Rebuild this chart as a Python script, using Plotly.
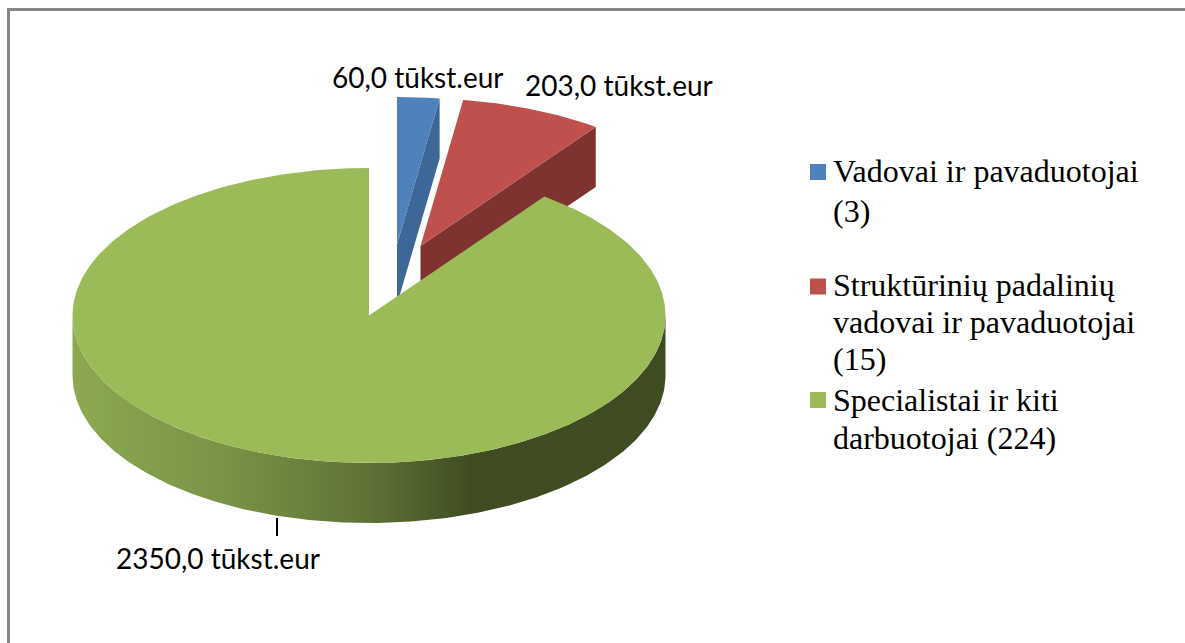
import numpy as np
import plotly.graph_objects as go

categories = ["Vadovai ir pavaduotojai (3)",
              "Struktūrinių padalinių vadovai ir pavaduotojai (15)",
              "Specialistai ir kiti darbuotojai (224)"]
legend_lines = [["Vadovai ir pavaduotojai", "(3)"],
                ["Struktūrinių padalinių", "vadovai ir pavaduotojai", "(15)"],
                ["Specialistai ir kiti", "darbuotojai (224)"]]
values = [60.0, 203.0, 2350.0]
value_labels = ["60,0 tūkst.eur", "203,0 tūkst.eur", "2350,0 tūkst.eur"]

TOP = ["#4F81BD", "#C0504D", "#9BBB59"]
SIDE = ["#3D6797", "#7F3331", None]
W, H = 1185, 643
RX, RY, DEPTH = 296.5, 147.5, 60
CENTERS = [(397, 244.5), (420.5, 246), (369, 315.5)]


def pt(c, t, dz=0):
    t = np.asarray(t, dtype=float)
    return c[0] + RX * np.sin(t), c[1] - RY * np.cos(t) + dz


fractions = np.array(values) / sum(values)
edges = np.concatenate([[0], np.cumsum(fractions)]) * 2 * np.pi

fig = go.Figure()

# exploded slices: cut face first, then top
for i in range(2):
    c, end = CENTERS[i], edges[i + 1]
    ex, ey = pt(c, end)
    fig.add_trace(go.Scatter(
        x=[c[0], ex, ex, c[0], c[0]],
        y=[c[1], ey, ey + DEPTH, c[1] + DEPTH, c[1]],
        mode="lines", fill="toself", fillcolor=SIDE[i],
        line=dict(width=0), showlegend=False, hoverinfo="skip"))
    t = np.linspace(edges[i], edges[i + 1], 40)
    ax, ay = pt(c, t)
    fig.add_trace(go.Scatter(
        x=np.r_[c[0], ax, c[0]], y=np.r_[c[1], ay, c[1]],
        mode="lines", fill="toself", fillcolor=TOP[i],
        line=dict(width=0), name=categories[i], showlegend=False,
        text=value_labels[i], hoverinfo="text"))

# large slice: rim with horizontal shading, then top
c = CENTERS[2]
t = np.linspace(np.pi / 2, 3 * np.pi / 2, 240)
tx, ty = pt(c, t)
bx, by = pt(c, t, DEPTH)
fig.add_trace(go.Scatter(
    x=np.r_[tx, bx[::-1], tx[0]], y=np.r_[ty, by[::-1], ty[0]],
    mode="lines", fill="toself",
    fillgradient=dict(type="horizontal", start=c[0] - RX, stop=c[0] + RX,
                      colorscale=[[0, "#8CA951"], [0.25, "#7A9447"],
                                  [0.5, "#5E7236"], [0.67, "#404D22"],
                                  [1, "#3F4B21"]]),
    line=dict(width=0), showlegend=False, hoverinfo="skip"))
t = np.linspace(edges[2], edges[3], 400)
ax, ay = pt(c, t)
fig.add_trace(go.Scatter(
    x=np.r_[c[0], ax, c[0]], y=np.r_[c[1], ay, c[1]],
    mode="lines", fill="toself", fillcolor=TOP[2],
    line=dict(width=0), name=categories[2], showlegend=False,
    text=value_labels[2], hoverinfo="text"))

# leader line of the large slice
fig.add_trace(go.Scatter(x=[277, 277], y=[518, 536], mode="lines",
                         line=dict(color="#000000", width=2),
                         showlegend=False, hoverinfo="skip"))

# legend keys
LEG_Y = [172, 286.5, 400]
for i, name in enumerate(categories):
    fig.add_trace(go.Scatter(x=[818], y=[LEG_Y[i]], mode="markers",
                             marker=dict(symbol="square", size=16, color=TOP[i],
                                         line=dict(width=0)),
                             showlegend=False, name=name, hoverinfo="name"))

ann = []
for txt, x, y in zip(value_labels, [417.5, 618.5, 217.5], [77, 84.5, 558]):
    ann.append(dict(x=x, y=y, text=txt, showarrow=False, xanchor="center",
                    yanchor="middle", font=dict(family="Lato", size=28, color="#000000")))
LINE_Y = [[170.5, 211], [285, 322, 359], [399.5, 438]]
for lines, ys in zip(legend_lines, LINE_Y):
    for txt, y in zip(lines, ys):
        ann.append(dict(x=831, y=y, text=txt, showarrow=False, xanchor="left",
                        yanchor="middle", align="left",
                        font=dict(family="Liberation Serif", size=32, color="#000000")))

shapes = [
    dict(type="line", x0=8.5, x1=8.5, y0=9, y1=H, line=dict(color="#868686", width=3)),
    dict(type="line", x0=7, x1=W, y0=9.5, y1=9.5, line=dict(color="#868686", width=3)),
]

fig.update_layout(
    width=W, height=H, margin=dict(l=0, r=0, t=0, b=0),
    paper_bgcolor="#FFFFFF", plot_bgcolor="#FFFFFF", showlegend=False,
    xaxis=dict(range=[0, W], visible=False, fixedrange=True),
    yaxis=dict(range=[H, 0], visible=False, fixedrange=True),
    annotations=ann, shapes=shapes,
)
fig.write_html("out.html", config={"displayModeBar": False},
               post_script="document.body.style.margin='0';document.documentElement.style.overflow='hidden';")
